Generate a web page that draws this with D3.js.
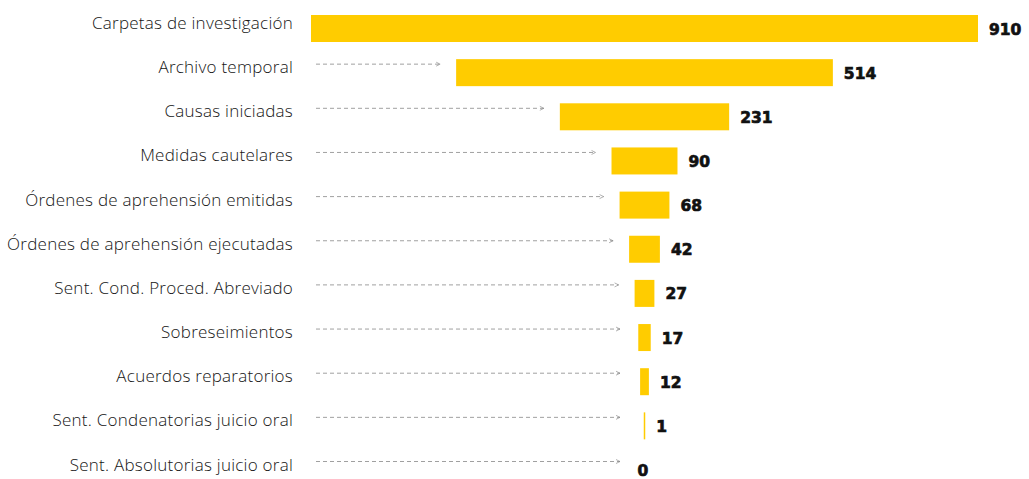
<!DOCTYPE html>
<html><head><meta charset="utf-8">
<script src="https://cdn.jsdelivr.net/npm/d3@7"></script>
<style>
html,body{margin:0;padding:0;background:#fff;}
svg{display:block;}
</style></head>
<body>
<svg id="chart" width="1029" height="479"></svg>
<script>
const categories = [
  "Carpetas de investigación",
  "Archivo temporal",
  "Causas iniciadas",
  "Medidas cautelares",
  "Órdenes de aprehensión emitidas",
  "Órdenes de aprehensión ejecutadas",
  "Sent. Cond. Proced. Abreviado",
  "Sobreseimientos",
  "Acuerdos reparatorios",
  "Sent. Condenatorias juicio oral",
  "Sent. Absolutorias juicio oral"
];
const values = [910, 514, 231, 90, 68, 42, 27, 17, 12, 1, 0];

const svg = d3.select("#chart");
const cx = 644.5;
const barH = 27;
const y = d3.scalePoint().domain(categories).range([28.5, 470]);
const w = d3.scaleLinear().domain([0, 910]).range([0, 667]);
const data = categories.map((c, i) => ({c, v: values[i]}));

svg.append("defs").append("marker")
  .attr("id", "arr").attr("viewBox", "0 0 10 10")
  .attr("refX", 9).attr("refY", 5)
  .attr("markerWidth", 5).attr("markerHeight", 8)
  .attr("markerUnits", "userSpaceOnUse")
  .attr("orient", "auto")
  .append("path").attr("d", "M1,1 L9,5 L1,9")
  .attr("fill", "none").attr("stroke", "#8a8a8a").attr("stroke-width", 1.3);

svg.selectAll("text.cat").data(data).join("text")
  .attr("class", "cat")
  .attr("x", 293).attr("y", d => y(d.c) + 0.5)
  .attr("text-anchor", "end")
  .attr("font-family", "'Open Sans', sans-serif")
  .attr("font-weight", 300)
  .attr("font-size", 17)
  .attr("letter-spacing", 0.25)
  .attr("fill", "#151515")
  .text(d => d.c);

svg.selectAll("line.arrow").data(data.slice(1)).join("line")
  .attr("class", "arrow")
  .attr("x1", 316)
  .attr("x2", d => Math.min(cx - w(d.v) / 2 - 16, 620))
  .attr("y1", d => y(d.c) - 8.5).attr("y2", d => y(d.c) - 8.5)
  .attr("stroke", "#a0a0a0").attr("stroke-width", 1)
  .attr("stroke-dasharray", "4,3")
  .attr("marker-end", "url(#arr)");

svg.selectAll("rect.bar").data(data.filter(d => d.v > 0)).join("rect")
  .attr("class", "bar")
  .attr("x", d => cx - Math.max(w(d.v), 1.5) / 2)
  .attr("y", d => y(d.c) - barH / 2)
  .attr("width", d => Math.max(w(d.v), 1.5))
  .attr("height", barH)
  .attr("fill", "#FFCC00");

svg.selectAll("text.val").data(data).join("text")
  .attr("class", "val")
  .attr("x", d => d.v > 0 ? cx + Math.max(w(d.v), 1.5) / 2 + 11 : cx - 7)
  .attr("y", d => y(d.c) + 0.5)
  .attr("dy", "0.36em")
  .attr("font-family", "'DejaVu Sans', sans-serif")
  .attr("font-weight", 700)
  .attr("font-size", 15.5)
  .attr("fill", "#111")
  .attr("stroke", "#111").attr("stroke-width", 0.7)
  .text(d => d.v);
</script>
</body></html>
